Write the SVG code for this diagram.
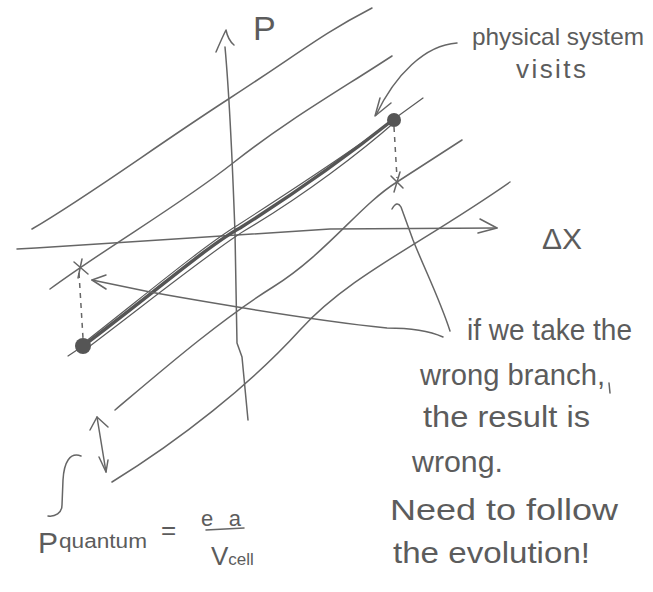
<svg xmlns="http://www.w3.org/2000/svg" width="653" height="592" viewBox="0 0 653 592">
<style>
.ln{fill:none;stroke:#666;stroke-width:1.5;stroke-linecap:round;stroke-linejoin:round}
.br{fill:none;stroke:#555;stroke-width:3.5;stroke-linecap:round;stroke-linejoin:round}
.thin{fill:none;stroke:#5a5a5a;stroke-width:1.2;stroke-linecap:round}
.dash{fill:none;stroke:#666;stroke-width:1.5;stroke-dasharray:5 5}
.dot{fill:#555}
.t{font-family:"Liberation Sans",Arial,sans-serif;fill:#5c5c5c}
</style>
<rect width="653" height="592" fill="#fff"/>
<g id="bands">
<path class="ln" d="M32,229 C90,195 150,150 227,100 S320,35 372,8"/>
<path class="ln" d="M50,289 C110,245 180,205 233,163 S340,90 392,56"/>
<path class="ln" d="M115,410 C160,372 220,320 273,287 S360,205 397,182 L462,140"/>
<path class="ln" d="M112,482 C180,440 250,385 300,330 S420,245 510,182"/>
</g>
<g id="axes">
<path class="ln" d="M225,47 C228,80 232,150 235,233 L237,343 L242,357 L248,420"/>
<path class="ln" d="M216,52 Q222,38 226,30 Q228,40 234,45"/>
<path class="ln" d="M17,249 C110,244 200,237 330,229 L497,228"/>
<path class="ln" d="M480,219 L497,228 L478,233"/>
</g>
<g id="branch">
<path class="thin" d="M394,119 L423,98"/>
<path class="thin" d="M83,346 L68,356"/>
<path class="br" d="M83,346 C150,296 210,244 240,228 C300,190 360,146 394,119"/>
<path class="thin" d="M85,342 C150,291 205,245 238,225 C300,185 355,149 392,121"/>
<path class="thin" d="M86,349 C152,299 212,251 244,231 C305,195 362,151 396,121"/>
<circle class="dot" cx="83" cy="346" r="8"/>
<circle class="dot" cx="394" cy="120" r="7"/>
</g>
<g id="crossings">
<path class="dash" d="M394,127 L397,178"/>
<path class="dash" d="M79,273 L83,338"/>
<path class="ln" d="M391,176 L403,188 M400,172 L394,192"/>
<path class="ln" d="M74,262 L88,274 M82,259 L78,278"/>
</g>
<g id="connectors">
<path class="ln" d="M457,43 C425,45 395,75 376,115"/>
<path class="ln" d="M380,98 L375,116 L391,103"/>
<path class="ln" d="M443,337 C425,329 400,328 387,328 C330,322 240,308 150,292 L92,280"/>
<path class="ln" d="M106,275 L92,280 L106,289"/>
<path class="ln" d="M450,331 C440,300 425,270 413,240 L401,207 Q397,200 392,209"/>
<path class="ln" d="M97,417 L106,472"/>
<path class="ln" d="M90,430 L97,417 L108,427"/>
<path class="ln" d="M99,457 L106,472 L108,460"/>
<path class="ln" d="M81,456 C70,452 64,462 63,480 L62,505 C62,513 55,517 48,516"/>
<path class="ln" d="M609,383 L610,393"/>
</g>
<g id="labels">
<text class="t" x="253" y="40" font-size="34">P</text>
<text class="t" x="542" y="249" font-size="30">ΔX</text>
<text class="t" x="472" y="45" font-size="24" textLength="172" lengthAdjust="spacingAndGlyphs">physical system</text>
<text class="t" x="516" y="78" font-size="26" textLength="70" lengthAdjust="spacing">visits</text>
<text class="t" x="467" y="340" font-size="30" textLength="165" lengthAdjust="spacingAndGlyphs">if we take the</text>
<text class="t" x="420" y="385" font-size="30" textLength="185" lengthAdjust="spacingAndGlyphs">wrong branch,</text>
<text class="t" x="423" y="427" font-size="30" textLength="167" lengthAdjust="spacingAndGlyphs">the result is</text>
<text class="t" x="412" y="472" font-size="30" textLength="91" lengthAdjust="spacingAndGlyphs">wrong.</text>
<text class="t" x="390" y="520" font-size="30" textLength="228" lengthAdjust="spacingAndGlyphs">Need to follow</text>
<text class="t" x="393" y="563" font-size="30" textLength="197" lengthAdjust="spacingAndGlyphs">the evolution!</text>
</g>
<g id="formula">
<text class="t" x="38" y="553" font-size="30">P</text>
<text class="t" x="59" y="548" font-size="20" textLength="88" lengthAdjust="spacingAndGlyphs">quantum</text>
<text class="t" x="161" y="539" font-size="26">=</text>
<text class="t" x="201" y="526" font-size="22" textLength="40">ea</text>
<path class="ln" d="M206,530 L244,528"/>
<text class="t" x="211" y="565" font-size="26">V<tspan font-size="17">cell</tspan></text>
</g>
</svg>
